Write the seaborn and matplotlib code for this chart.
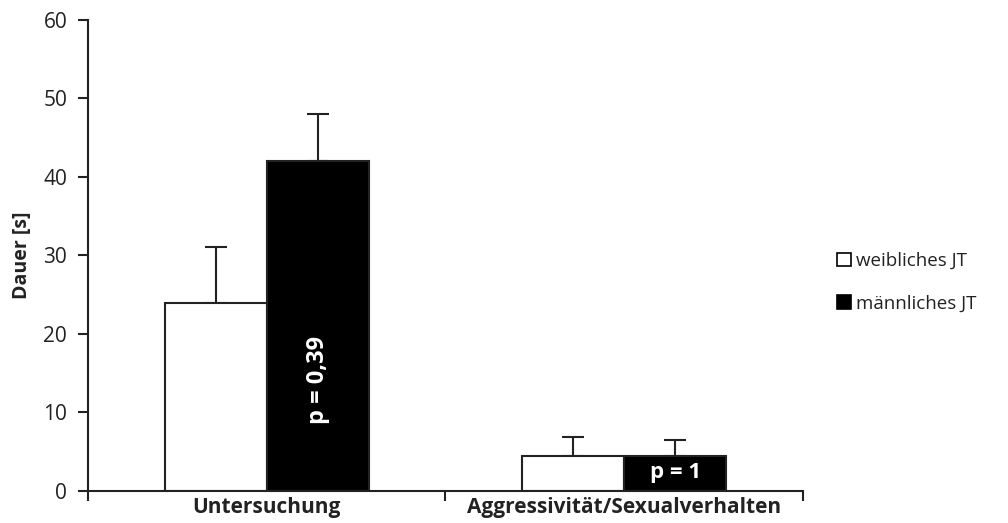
import matplotlib
matplotlib.use("Agg")
import matplotlib.pyplot as plt
import seaborn as sns
import pandas as pd
import numpy as np
from matplotlib.patches import Patch

sns.set_theme(style="white")
plt.rcParams['font.family'] = ['Open Sans', 'DejaVu Sans']

categories = ["Untersuchung", "Aggressivität/Sexualverhalten"]
groups = ["weibliches JT", "männliches JT"]
weiblich = [24.0, 4.5]
maennlich = [42.0, 4.5]
err_weiblich = [7.1, 2.4]
err_maennlich = [6.0, 2.0]
p_labels = ["p = 0,39", "p = 1"]
yticks = [0, 10, 20, 30, 40, 50, 60]

df = pd.DataFrame({
    "cat": categories * 2,
    "group": [groups[0]] * 2 + [groups[1]] * 2,
    "val": weiblich + maennlich,
    "err": err_weiblich + err_maennlich,
})

fig = plt.figure(figsize=(10.08, 5.23), dpi=100)
ax = fig.add_axes([0.0873, 0.0612, 0.7093, 0.9006])

sns.barplot(data=df, x="cat", y="val", hue="group", order=categories, hue_order=groups,
            palette={groups[0]: "white", groups[1]: "black"}, edgecolor="#222222",
            linewidth=1.5, width=0.57, errorbar=None, ax=ax, legend=False)

# error bars (plus only)
bars = [p for p in ax.patches if p.get_height() > 0]
vals = []
for gi, g in enumerate(groups):
    for ci, c in enumerate(categories):
        row = df[(df.cat == c) & (df.group == g)].iloc[0]
        vals.append((row.val, row.err))
for bar, (v, e) in zip(bars, vals):
    xc = bar.get_x() + bar.get_width() / 2
    ax.errorbar(xc, bar.get_height(), yerr=[[0], [e]], fmt="none", ecolor="#222222",
                elinewidth=1.5, capsize=8, capthick=1.5, zorder=1)
    bar.set_zorder(2)

# p-value texts inside black bars
black_bars = bars[2:]
b0 = black_bars[0]
ax.text(b0.get_x() + b0.get_width() / 2, 14.2, p_labels[0], rotation=90, color="white",
        fontsize=17, fontweight="bold", ha="center", va="center", zorder=3)
b1 = black_bars[1]
ax.text(b1.get_x() + b1.get_width() / 2, 2.4, p_labels[1], color="white",
        fontsize=16, fontweight="bold", ha="center", va="center", zorder=3)

ax.set_xlim(-0.5, 1.5)
ax.set_ylim(0, 60)
ax.set_yticks(yticks)
ax.set_yticklabels([str(t) for t in yticks], fontsize=15, color="#222222")
ax.set_xticks([0, 1])
ax.set_xticklabels(categories, fontsize=15, fontweight="bold", color="#222222")
ax.set_xticks([-0.5, 0.5, 1.5], minor=True)
ax.tick_params(axis="x", which="major", length=0, pad=4)
ax.tick_params(axis="x", which="minor", length=7, width=1.5, color="#222222", direction="out", bottom=True)
ax.tick_params(axis="y", length=7, width=1.5, color="#222222", direction="out", left=True, pad=8)
ax.set_xlabel("")
ax.set_ylabel("Dauer [s]", fontsize=14, fontweight="bold", color="#222222", labelpad=8)

for s in ["top", "right"]:
    ax.spines[s].set_visible(False)
for s in ["left", "bottom"]:
    ax.spines[s].set_color("#222222")
    ax.spines[s].set_linewidth(1.5)

handles = [Patch(facecolor="white", edgecolor="black", linewidth=1.2),
           Patch(facecolor="black", edgecolor="black", linewidth=1.2)]
fig.legend(handles, groups, loc="center left", bbox_to_anchor=(0.814, 0.46), frameon=False,
           fontsize=13.5, handlelength=0.7, handleheight=0.7, handletextpad=0.3, labelspacing=1.3,
           labelcolor="#222222")

fig.savefig("out.png", dpi=100)
